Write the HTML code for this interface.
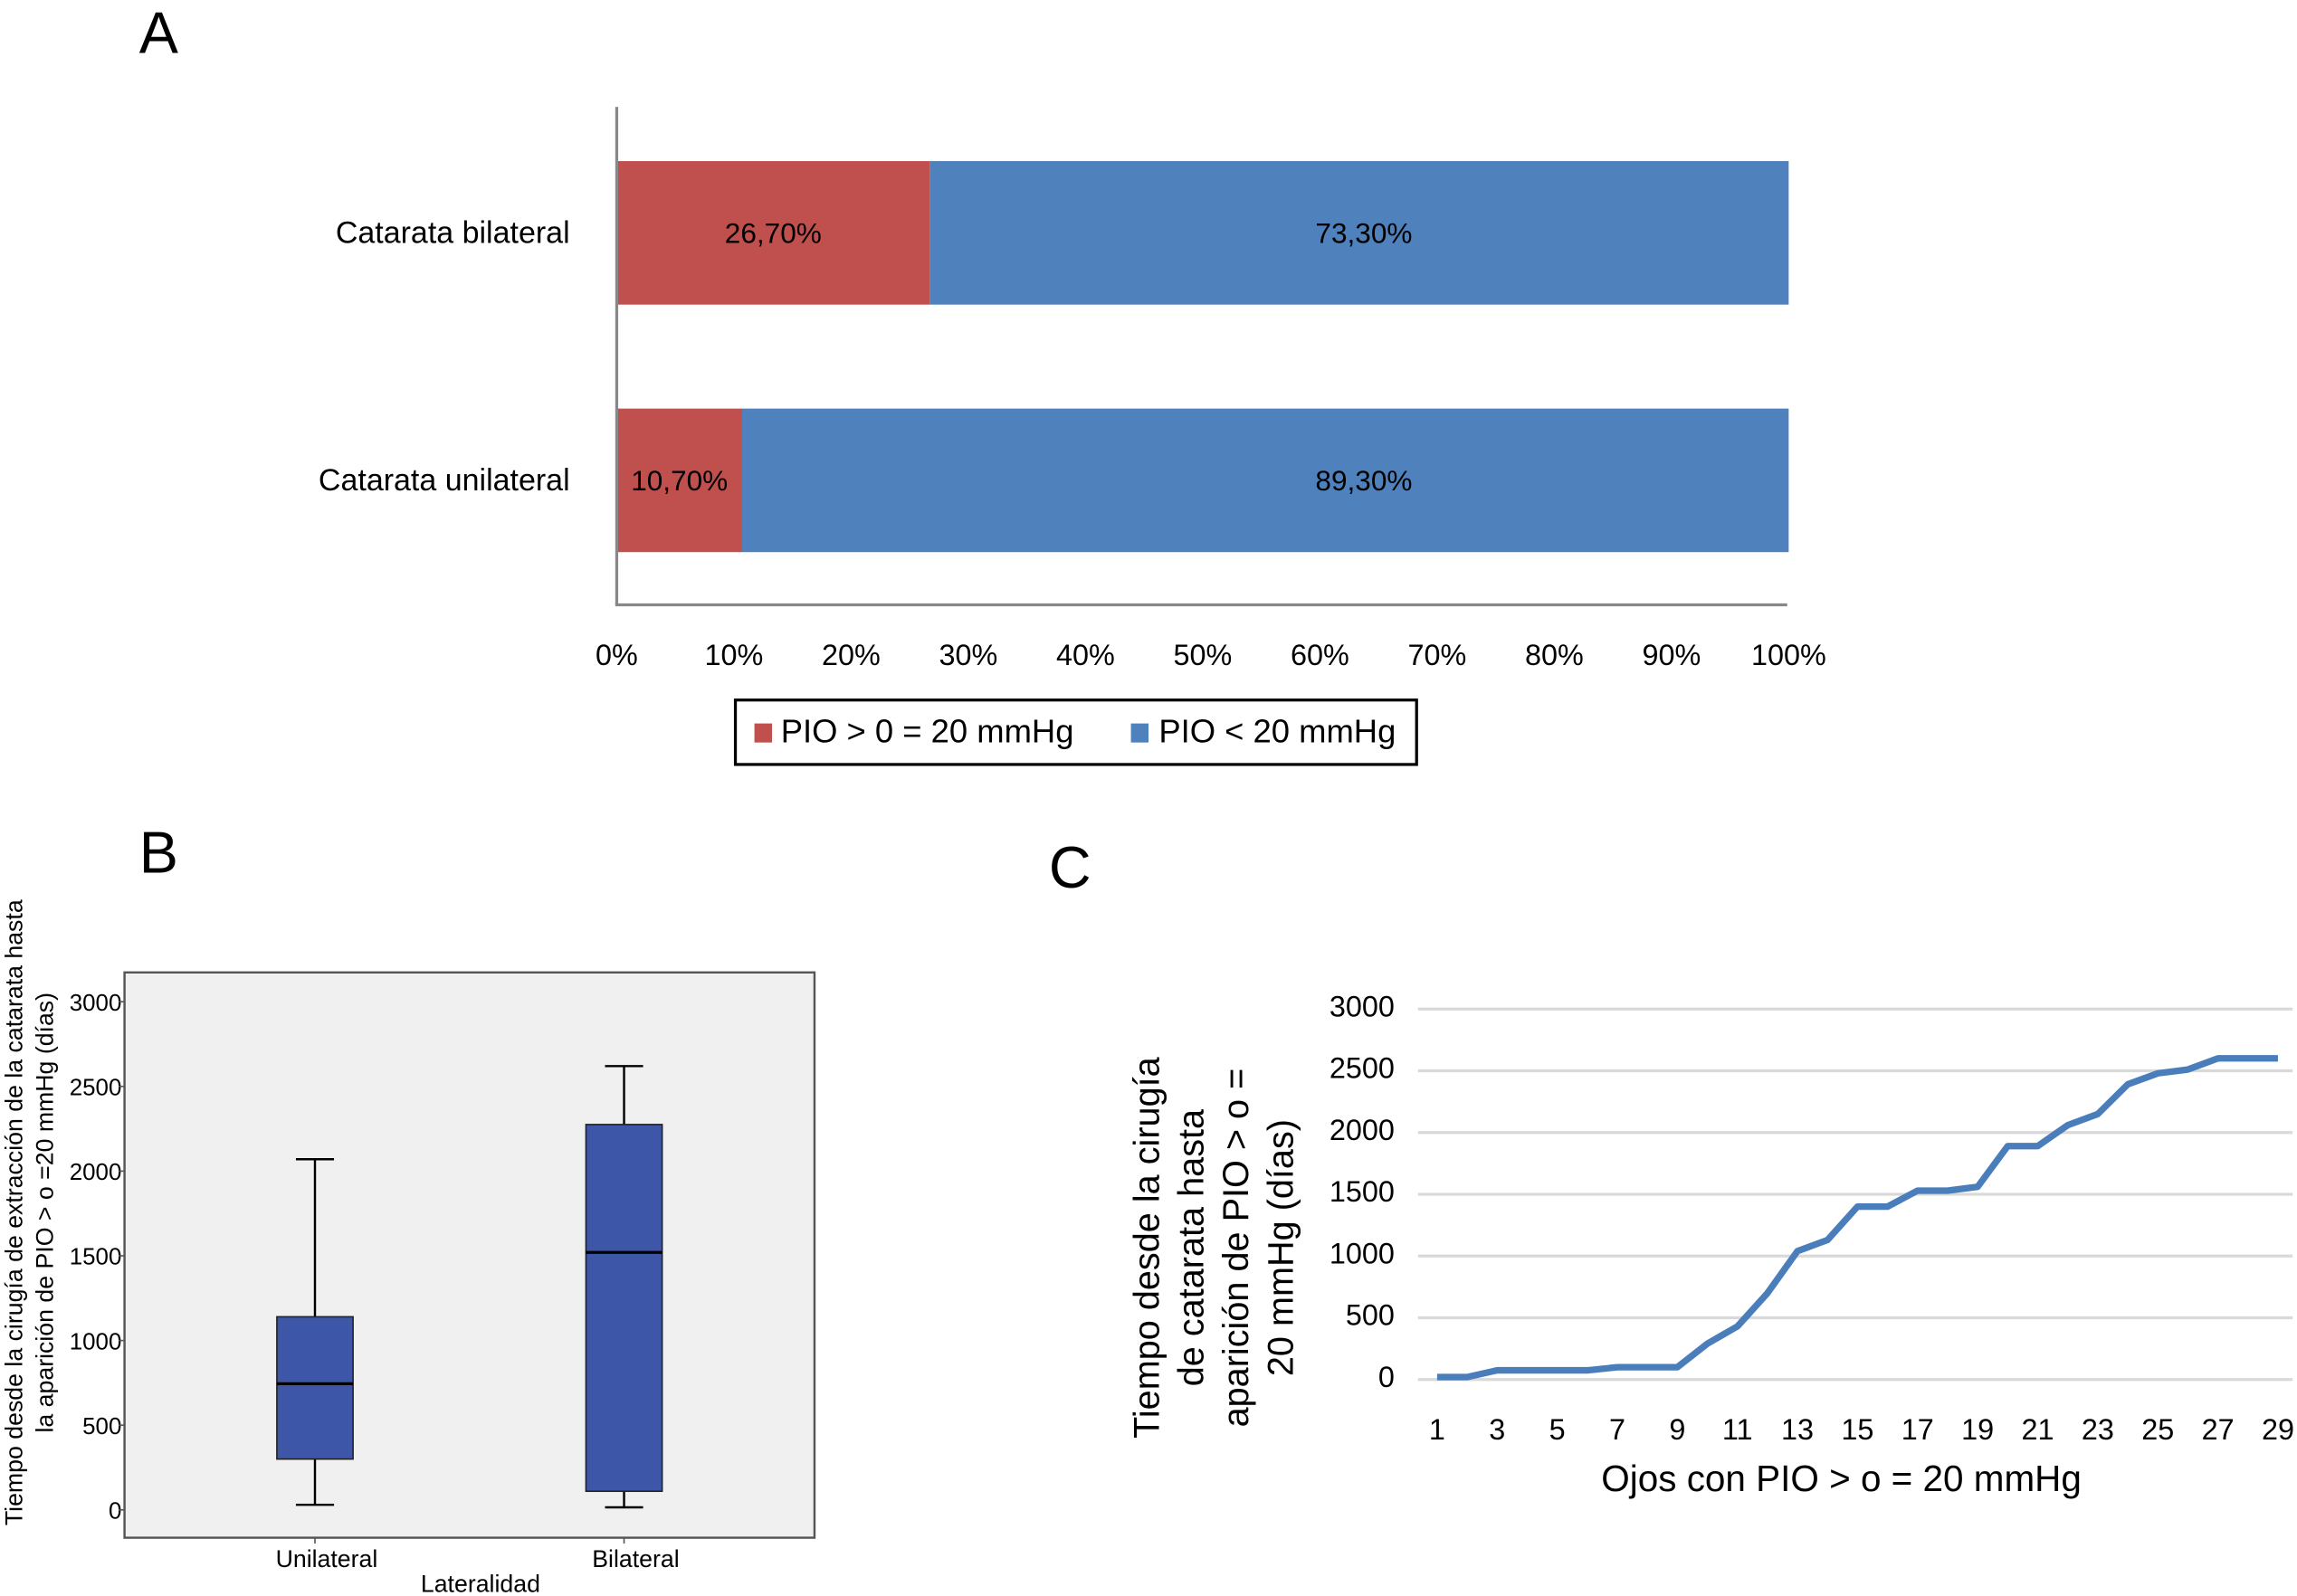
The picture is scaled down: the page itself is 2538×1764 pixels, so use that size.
<!DOCTYPE html>
<html><head><meta charset="utf-8"><style>
html,body{margin:0;padding:0;background:#fff;}
svg{display:block;font-family:"Liberation Sans",sans-serif;}
</style></head><body>
<svg id="fig" width="2538" height="1764" viewBox="0 0 1568 1089.8" preserveAspectRatio="none">
<text x="95" y="36" font-size="40">A</text>
<g id="pa"></g>
<text x="95" y="596" font-size="40">B</text>
<g id="pb"></g>
<text x="716" y="606" font-size="40">C</text>
<g id="pc"></g>
</svg>
<script>
// Panel A data
const catsA = ["Catarata bilateral","Catarata unilateral"];
const highA = [26.7, 10.7];
const lowA = [73.3, 89.3];
const highLbl = ["26,70%","10,70%"];
const lowLbl = ["73,30%","89,30%"];
const ticksA = [0,10,20,30,40,50,60,70,80,90,100];
// Panel B data
const catsB = ["Unilateral","Bilateral"];
const wLo = [30, 15];
const q1 = [300, 110];
const med = [745, 1520];
const q3 = [1140, 2275];
const wHi = [2070, 2620];
const ticksB = [0,500,1000,1500,2000,2500,3000];
// Panel C data
const xC = [1,2,3,4,5,6,7,8,9,10,11,12,13,14,15,16,17,18,19,20,21,22,23,24,25,26,27,28,29];
const yC = [20,20,75,75,75,75,100,100,100,290,430,700,1040,1130,1400,1400,1530,1530,1560,1890,1890,2060,2150,2390,2480,2510,2600,2600,2600];
const ticksC = [0,500,1000,1500,2000,2500,3000];

const NS="http://www.w3.org/2000/svg";
function mk(p,tag,at,txt){const e=document.createElementNS(NS,tag);for(const k in at)e.setAttribute(k,at[k]);if(txt!==undefined)e.textContent=txt;p.appendChild(e);return e;}

// ---- Panel A
const pa=document.getElementById('pa');
const ax=v=>421+v*8.0;
const rowY=[110,279], bh=98;
catsA.forEach((c,i)=>{
  let t=mk(pa,'text',{x:389,y:rowY[i]+49+7,'font-size':21,'text-anchor':'end'},c);
  
  
  let r=mk(pa,'rect',{x:ax(0),y:rowY[i],width:ax(highA[i])-ax(0),height:bh,fill:'#c0504d'});
  
  
  let r2=mk(pa,'rect',{x:ax(highA[i]),y:rowY[i],width:ax(highA[i]+lowA[i])-ax(highA[i]),height:bh,fill:'#4f81bd'});
  
  
  let l1=mk(pa,'text',{x:(ax(0)+ax(highA[i]))/2,y:rowY[i]+56,'font-size':19.5,'text-anchor':'middle'},highLbl[i]);
  
  
  let l2=mk(pa,'text',{x:931,y:rowY[i]+56,'font-size':19.5,'text-anchor':'middle'},lowLbl[i]);
  
  
});
let a1=mk(pa,'line',{x1:421,y1:73,x2:421,y2:413,stroke:'#888','stroke-width':2});


let a2=mk(pa,'line',{x1:420,y1:413,x2:1220,y2:413,stroke:'#888','stroke-width':2});


ticksA.forEach(v=>{
  let t=mk(pa,'text',{x:ax(v),y:454,'font-size':20,'text-anchor':'middle'},v+'%');
  
  
});
let lg=mk(pa,'rect',{x:502,y:478,width:465,height:44,fill:'#fff',stroke:'#000','stroke-width':2});


mk(pa,'rect',{x:515,y:494,width:12,height:13,fill:'#c0504d'});
let le1=mk(pa,'text',{x:533,y:507,'font-size':22.5},'PIO > 0 = 20 mmHg');


mk(pa,'rect',{x:772,y:494,width:12,height:13,fill:'#4f81bd'});
let le2=mk(pa,'text',{x:791,y:507,'font-size':22.5},'PIO < 20 mmHg');



// ---- Panel B
const pb=document.getElementById('pb');
const by=v=>1031-v*(347/3000);
const bx=[215,426], bw=52;
let fr=mk(pb,'rect',{x:85,y:664,width:471,height:386,fill:'#f0f0f0',stroke:'#555','stroke-width':1.5});


ticksB.forEach(v=>{
  let t=mk(pb,'text',{x:83,y:by(v)+6,'font-size':16,'text-anchor':'end'},v);
  
  
  mk(pb,'line',{x1:81,y1:by(v),x2:85,y2:by(v),stroke:'#555'});
});
catsB.forEach((c,i)=>{
  const x=bx[i];
  let w=mk(pb,'line',{x1:x,y1:by(wLo[i]),x2:x,y2:by(wHi[i]),stroke:'#000','stroke-width':1.5});
  
  
  mk(pb,'line',{x1:x-13,y1:by(wLo[i]),x2:x+13,y2:by(wLo[i]),stroke:'#000','stroke-width':1.5});
  mk(pb,'line',{x1:x-13,y1:by(wHi[i]),x2:x+13,y2:by(wHi[i]),stroke:'#000','stroke-width':1.5});
  let b=mk(pb,'rect',{x:x-bw/2,y:by(q3[i]),width:bw,height:by(q1[i])-by(q3[i]),fill:'#3d56a8',stroke:'#222','stroke-width':1});
  
  
  let m=mk(pb,'line',{x1:x-bw/2,y1:by(med[i]),x2:x+bw/2,y2:by(med[i]),stroke:'#000','stroke-width':2});
  
  
  mk(pb,'line',{x1:x,y1:1050,x2:x,y2:1054,stroke:'#555'});
  let t=mk(pb,'text',{x:x+8,y:1070,'font-size':16.5,'text-anchor':'middle'},c);
  
  
});
let bxt=mk(pb,'text',{x:328,y:1087,'font-size':16.5,'text-anchor':'middle'},'Lateralidad');


let byt=mk(pb,'text',{transform:'translate(15,828) rotate(-90)','font-size':16.5,'text-anchor':'middle'},'Tiempo desde la cirugía de extracción de la catarata hasta');


let byt2=mk(pb,'text',{transform:'translate(36,828) rotate(-90)','font-size':16.5,'text-anchor':'middle'},'la aparición de PIO > o =20 mmHg (días)');



// ---- Panel C
const pc=document.getElementById('pc');
const cy=v=>942-v*(253/3000);
const cx=v=>981+(v-1)*(574/28);
ticksC.forEach(v=>{
  let g=mk(pc,'line',{x1:968,y1:cy(v),x2:1565,y2:cy(v),stroke:'#d9d9d9','stroke-width':2});
  
  
  let t=mk(pc,'text',{x:952,y:cy(v)+5,'font-size':20,'text-anchor':'end'},v);
  
  
});
xC.forEach(v=>{ if(v%2===1){
  let t=mk(pc,'text',{x:cx(v),y:983,'font-size':20,'text-anchor':'middle'},v);
  
  
}});
let d=xC.map((v,i)=>(i?'L':'M')+cx(v).toFixed(1)+','+cy(yC[i]).toFixed(1)).join(' ');
let ln=mk(pc,'path',{d:d,fill:'none',stroke:'#4a7ebb','stroke-width':4.5,'stroke-linejoin':'round'});


let cxt=mk(pc,'text',{x:1257,y:1018,'font-size':25,'text-anchor':'middle'},'Ojos con PIO > o = 20 mmHg');


["Tiempo desde la cirugía","de catarata hasta","aparición de PIO > o =","20 mmHg (días)"].forEach((s,i)=>{
  let t=mk(pc,'text',{transform:'translate('+(791+i*30.5)+',852) rotate(-90)','font-size':24.5,'text-anchor':'middle'},s);
  
  
});
</script>
</body></html>
